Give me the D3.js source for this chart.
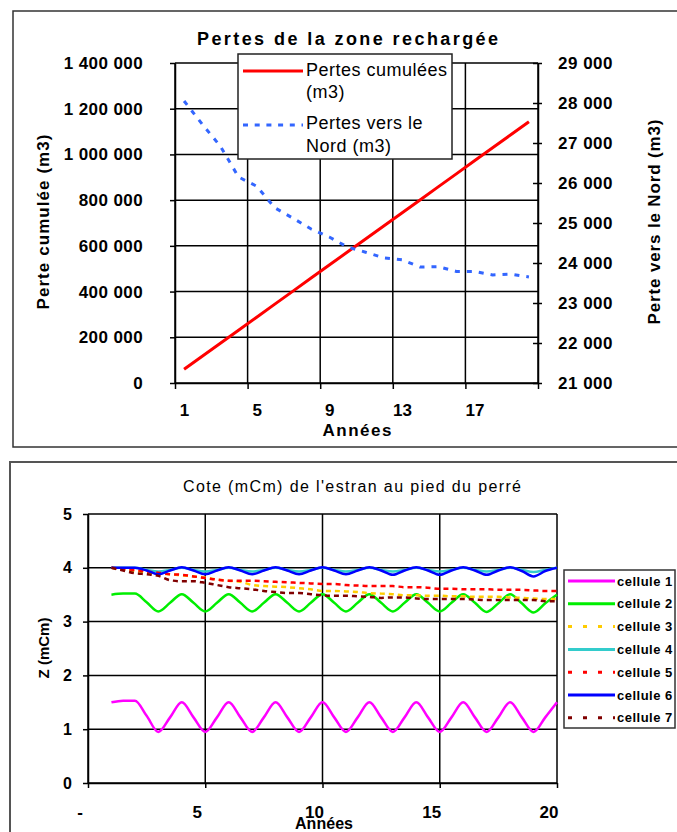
<!DOCTYPE html>
<html>
<head>
<meta charset="utf-8">
<script src="https://cdn.jsdelivr.net/npm/d3@7"></script>
<style>
  body { margin: 0; background: #fff; }
  svg { display: block; font-family: "Liberation Sans", Arial, sans-serif; }
</style>
</head>
<body>
<svg id="chart" width="677" height="832"></svg>
<script>

// DATA - top chart (pertes de la zone rechargée)

const annees = [1, 2, 3, 4, 5, 6, 7, 8, 9, 10, 11, 12, 13, 14, 15, 16, 17, 18, 19, 20]
const pertesCumulees = [60000, 117000, 174000, 231000, 288000, 345000, 402000, 459000, 516000, 573000,
    630000, 687000, 744000, 801000, 858000, 915000, 972000, 1029000, 1086000, 1143000]
const pertesNord = [28050, 27470, 26920, 26150, 25920, 25380, 25120, 24850, 24650, 24400,
    24270, 24130, 24080, 23900, 23910, 23790, 23790, 23700, 23720, 23650]
const anneeLabels = [1, 5, 9, 13, 17]
const leftTicks = [0, 200000, 400000, 600000, 800000, 1000000, 1200000, 1400000]
const rightTicks = [21000, 22000, 23000, 24000, 25000, 26000, 27000, 28000, 29000]

// DATA - bottom chart (cote de l'estran)

const temps = [1, 1.5, 2, 2.5, 3, 3.5, 4, 4.5, 5, 5.5, 6, 6.5, 7, 7.5, 8, 8.5, 9, 9.5, 10, 10.5,
    11, 11.5, 12, 12.5, 13, 13.5, 14, 14.5, 15, 15.5, 16, 16.5, 17, 17.5, 18, 18.5, 19, 19.5, 20]
const cellule1 = [1.50, 1.53, 1.53, 1.25, 0.95, 1.22, 1.50, 1.22, 0.95, 1.22, 1.50, 1.22, 0.95, 1.22, 1.50, 1.22, 0.95, 1.22, 1.50, 1.22,
    0.95, 1.22, 1.50, 1.22, 0.95, 1.22, 1.50, 1.22, 0.95, 1.22, 1.50, 1.22, 0.95, 1.22, 1.50, 1.22, 0.95, 1.22, 1.50]
const cellule2 = [3.50, 3.52, 3.52, 3.36, 3.19, 3.35, 3.51, 3.35, 3.19, 3.35, 3.51, 3.35, 3.19, 3.35, 3.51, 3.35, 3.19, 3.35, 3.51, 3.35,
    3.19, 3.35, 3.51, 3.35, 3.19, 3.35, 3.51, 3.35, 3.19, 3.35, 3.51, 3.35, 3.18, 3.34, 3.51, 3.34, 3.17, 3.34, 3.50]
const cellule3 = [4.00, 3.97, 3.94, 3.91, 3.89, 3.88, 3.86, 3.84, 3.82, 3.78, 3.76, 3.74, 3.68, 3.66, 3.65, 3.64, 3.62, 3.60, 3.57, 3.57,
    3.56, 3.55, 3.53, 3.52, 3.51, 3.49, 3.49, 3.48, 3.48, 3.47, 3.47, 3.46, 3.46, 3.46, 3.45, 3.44, 3.43, 3.42, 3.42]
const cellule4 = [4.00, 4.00, 4.00, 3.96, 3.93, 3.96, 4.00, 3.96, 3.93, 3.96, 4.00, 3.96, 3.93, 3.96, 4.00, 3.96, 3.93, 3.96, 4.00, 3.96,
    3.93, 3.96, 4.00, 3.96, 3.93, 3.96, 4.00, 3.96, 3.93, 3.96, 4.00, 3.96, 3.93, 3.96, 4.00, 3.96, 3.92, 3.96, 4.00]
const cellule5 = [4.00, 3.98, 3.96, 3.93, 3.91, 3.88, 3.87, 3.84, 3.81, 3.78, 3.76, 3.76, 3.76, 3.75, 3.74, 3.73, 3.72, 3.71, 3.70, 3.70,
    3.68, 3.67, 3.66, 3.66, 3.66, 3.64, 3.64, 3.63, 3.61, 3.61, 3.60, 3.60, 3.60, 3.59, 3.59, 3.59, 3.58, 3.57, 3.57]
const cellule6 = [4.00, 4.00, 4.00, 3.95, 3.88, 3.95, 4.01, 3.95, 3.88, 3.95, 4.01, 3.95, 3.88, 3.95, 4.01, 3.95, 3.88, 3.95, 4.01, 3.95,
    3.88, 3.95, 4.01, 3.95, 3.87, 3.95, 4.01, 3.95, 3.87, 3.95, 4.01, 3.95, 3.87, 3.95, 4.01, 3.94, 3.84, 3.94, 4.00]
const cellule7 = [4.00, 3.95, 3.90, 3.88, 3.85, 3.77, 3.75, 3.75, 3.72, 3.68, 3.64, 3.62, 3.60, 3.57, 3.55, 3.53, 3.53, 3.51, 3.49, 3.48,
    3.48, 3.47, 3.46, 3.44, 3.45, 3.45, 3.43, 3.42, 3.42, 3.42, 3.42, 3.41, 3.40, 3.40, 3.40, 3.40, 3.40, 3.38, 3.38]
const cellNames = ["cellule 1", "cellule 2", "cellule 3", "cellule 4", "cellule 5", "cellule 6", "cellule 7"]
const zTicks = [0, 1, 2, 3, 4, 5]
const tempsTicks = [0, 5, 10, 15, 20]

// STYLES

const cellColors = ["#ff00ff", "#00ee00", "#ffcc00", "#33cccc", "#ff0000", "#0000ff", "#800000"]
const cellDash = [null, null, "5,4", null, "5,4", null, "5,4"]
const cellLegendDash = [null, null, "4,11", null, "4,11", null, "4,11"]

const fmtSpace = d3.formatLocale({decimal: ",", thousands: " ", grouping: [3], currency: ["", ""]}).format(",.0f")

const svg = d3.select("#chart")

svg.append("rect").attr("width", 677).attr("height", 832).attr("fill", "#fff")

function styleAxis(g, size, bold) {
    g.attr("font-size", null).attr("font-family", null)
    g.selectAll("text")
        .attr("font-size", size)
        .attr("font-weight", bold ? "bold" : "normal")
        .attr("fill", "#000")
    g.selectAll("line, path").attr("stroke", "#000").attr("stroke-width", 1.5)
}

// ============ TOP CHART ============

const tp = {left: 175, right: 538, top: 63, bottom: 383}

const xTop = d3.scaleLinear().domain([0.5, 20.5]).range([tp.left, tp.right])
const yLeft = d3.scaleLinear().domain([0, 1400000]).range([tp.bottom, tp.top])
const yRight = d3.scaleLinear().domain([21000, 29000]).range([tp.bottom, tp.top])
const bounds = anneeLabels.map(d => d - 0.5).concat([20.5])

svg.append("rect")
    .attr("x", 13).attr("y", 11)
    .attr("width", 690).attr("height", 436)
    .attr("fill", "none").attr("stroke", "#333").attr("stroke-width", 1.5)

svg.append("text")
    .attr("x", 347.5).attr("y", 45)
    .attr("text-anchor", "middle")
    .attr("font-size", 18).attr("font-weight", "bold")
    .attr("textLength", 301).attr("lengthAdjust", "spacing")
    .text("Pertes de la zone rechargée")

// grid
const gridTop = svg.append("g").attr("stroke", "#000").attr("stroke-width", 1.5)
gridTop.selectAll(".h").data(leftTicks).enter().append("line")
    .attr("x1", tp.left).attr("x2", tp.right)
    .attr("y1", d => yLeft(d)).attr("y2", d => yLeft(d))
gridTop.selectAll(".v").data(bounds).enter().append("line")
    .attr("x1", d => xTop(d)).attr("x2", d => xTop(d))
    .attr("y1", tp.top).attr("y2", tp.bottom)

// axes
const axLeft = svg.append("g")
    .attr("transform", "translate(" + tp.left + ",0)")
    .call(d3.axisLeft(yLeft).tickValues(leftTicks).tickSize(5).tickSizeOuter(0).tickPadding(27).tickFormat(fmtSpace))
styleAxis(axLeft, 17, true)
axLeft.selectAll("text").attr("letter-spacing", 0.4)

const axRight = svg.append("g")
    .attr("transform", "translate(" + tp.right + ",0)")
    .call(d3.axisRight(yRight).tickValues(rightTicks).tickSize(4).tickSizeOuter(0).tickPadding(16).tickFormat(fmtSpace))
styleAxis(axRight, 17, true)
axRight.selectAll(".tick line").attr("x1", -5)
axRight.selectAll("text").attr("letter-spacing", 0.5)

const axBottomTicks = svg.append("g")
    .attr("transform", "translate(0," + tp.bottom + ")")
    .call(d3.axisBottom(xTop).tickValues(bounds).tickSize(6).tickSizeOuter(0).tickFormat(""))
styleAxis(axBottomTicks, 17, true)

const axBottomLabels = svg.append("g")
    .attr("transform", "translate(0," + tp.bottom + ")")
    .call(d3.axisBottom(xTop).tickValues(anneeLabels).tickSize(0).tickPadding(21).tickFormat(d3.format("d")))
axBottomLabels.select(".domain").remove()
styleAxis(axBottomLabels, 17, true)

svg.append("text")
    .attr("x", 357).attr("y", 436)
    .attr("text-anchor", "middle")
    .attr("font-size", 17).attr("font-weight", "bold")
    .attr("textLength", 69).attr("lengthAdjust", "spacing")
    .text("Années")

svg.append("text")
    .attr("transform", "translate(49,222) rotate(-90)")
    .attr("text-anchor", "middle")
    .attr("font-size", 17).attr("font-weight", "bold")
    .attr("textLength", 175).attr("lengthAdjust", "spacing")
    .text("Perte cumulée (m3)")

svg.append("text")
    .attr("transform", "translate(660,222) rotate(-90)")
    .attr("text-anchor", "middle")
    .attr("font-size", 17).attr("font-weight", "bold")
    .attr("textLength", 205).attr("lengthAdjust", "spacing")
    .text("Perte vers le Nord (m3)")

// series
svg.append("path")
    .datum(pertesCumulees)
    .attr("fill", "none").attr("stroke", "#ff0000").attr("stroke-width", 3)
    .attr("d", d3.line().x((d, i) => xTop(annees[i])).y(d => yLeft(d)))

svg.append("path")
    .datum(pertesNord)
    .attr("fill", "none").attr("stroke", "#3366ff").attr("stroke-width", 3)
    .attr("stroke-dasharray", "5,7")
    .attr("d", d3.line().x((d, i) => xTop(annees[i])).y(d => yRight(d)))

// legend
const legTop = svg.append("g")
legTop.append("rect")
    .attr("x", 238).attr("y", 54).attr("width", 214).attr("height", 105)
    .attr("fill", "#fff").attr("stroke", "#222").attr("stroke-width", 1.5)
legTop.append("line").attr("x1", 243).attr("x2", 303).attr("y1", 71).attr("y2", 71)
    .attr("stroke", "#ff0000").attr("stroke-width", 3)
legTop.append("line").attr("x1", 243).attr("x2", 303).attr("y1", 125).attr("y2", 125)
    .attr("stroke", "#3366ff").attr("stroke-width", 3).attr("stroke-dasharray", "5,6.7")
const legTexts = [["Pertes cumulées", 76], ["(m3)", 98], ["Pertes vers le", 129], ["Nord (m3)", 152]]
legTop.selectAll("text").data(legTexts).enter().append("text")
    .attr("x", 306).attr("y", d => d[1])
    .attr("font-size", 18).attr("letter-spacing", 0.5)
    .text(d => d[0])

// ============ BOTTOM CHART ============

const bp = {left: 88, right: 557, top: 514, bottom: 783}

const xBot = d3.scaleLinear().domain([0, 20]).range([bp.left, bp.right])
const yBot = d3.scaleLinear().domain([0, 5]).range([bp.bottom, bp.top])

svg.append("rect")
    .attr("x", 10).attr("y", 462)
    .attr("width", 700).attr("height", 400)
    .attr("fill", "none").attr("stroke", "#555").attr("stroke-width", 2)

svg.append("text")
    .attr("x", 352).attr("y", 492)
    .attr("text-anchor", "middle")
    .attr("font-size", 16)
    .attr("textLength", 338).attr("lengthAdjust", "spacing")
    .text("Cote (mCm) de l'estran au pied du perré")

const gridBot = svg.append("g").attr("stroke", "#000").attr("stroke-width", 1.5)
gridBot.selectAll(".h").data(zTicks).enter().append("line")
    .attr("x1", bp.left).attr("x2", bp.right)
    .attr("y1", d => yBot(d)).attr("y2", d => yBot(d))
gridBot.selectAll(".v").data(tempsTicks).enter().append("line")
    .attr("x1", d => xBot(d)).attr("x2", d => xBot(d))
    .attr("y1", bp.top).attr("y2", bp.bottom)

const axZ = svg.append("g")
    .attr("transform", "translate(" + bp.left + ",0)")
    .call(d3.axisLeft(yBot).tickValues(zTicks).tickSize(5).tickSizeOuter(0).tickPadding(11).tickFormat(d3.format("d")))
styleAxis(axZ, 16, true)

const axT = svg.append("g")
    .attr("transform", "translate(0," + bp.bottom + ")")
    .call(d3.axisBottom(xBot).tickValues(tempsTicks).tickSize(5).tickSizeOuter(0).tickPadding(18)
        .tickFormat(d => d === 0 ? "-" : d))
styleAxis(axT, 17, true)
axT.selectAll("text").attr("x", -8.5)

svg.append("text")
    .attr("x", 324).attr("y", 829)
    .attr("text-anchor", "middle")
    .attr("font-size", 16).attr("font-weight", "bold")
    .attr("textLength", 58).attr("lengthAdjust", "spacing")
    .text("Années")

svg.append("text")
    .attr("transform", "translate(49,648) rotate(-90)")
    .attr("text-anchor", "middle")
    .attr("font-size", 15).attr("font-weight", "bold")
    .text("Z (mCm)")

const cells = [cellule1, cellule2, cellule3, cellule4, cellule5, cellule6, cellule7]
const cellLine = d3.line()
    .x((d, i) => xBot(temps[i]))
    .y(d => yBot(d))
    .curve(d3.curveMonotoneX)

svg.append("g").selectAll("path")
    .data(cells)
    .enter()
    .append("path")
        .attr("fill", "none")
        .attr("stroke", (d, i) => cellColors[i])
        .attr("stroke-width", (d, i) => cellDash[i] ? 2.5 : 2.5)
        .attr("stroke-dasharray", (d, i) => cellDash[i])
        .attr("d", cellLine)

// legend
const legBot = svg.append("g")
legBot.append("rect")
    .attr("x", 564).attr("y", 570).attr("width", 111).attr("height", 158)
    .attr("fill", "#fff").attr("stroke", "#333").attr("stroke-width", 1.5)

const legItem = legBot.selectAll(".item")
    .data(cellNames)
    .enter()
    .append("g")
        .attr("transform", (d, i) => "translate(0," + (581 + i * 22.8) + ")")
legItem.append("line")
    .attr("x1", 568).attr("x2", 615)
    .attr("stroke", (d, i) => cellColors[i])
    .attr("stroke-width", 3)
    .attr("stroke-dasharray", (d, i) => cellLegendDash[i])
legItem.append("text")
    .attr("x", 617).attr("y", 4.5)
    .attr("font-size", 13).attr("font-weight", "bold")
    .attr("letter-spacing", 0.5)
    .text(d => d)

</script>
</body>
</html>
